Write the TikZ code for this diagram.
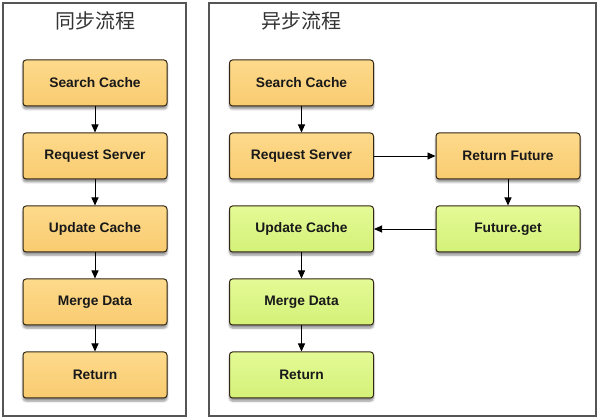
\documentclass[tikz,border=0pt]{standalone}
\usepackage{fontspec}
\setmainfont{Liberation Sans}
\newfontfamily\cjk{Noto Sans CJK SC}
\usetikzlibrary{arrows.meta,shadows.blur}
\definecolor{orangetop}{RGB}{253,218,140}
\definecolor{orangebot}{RGB}{249,203,112}
\definecolor{greentop}{RGB}{228,250,150}
\definecolor{greenbot}{RGB}{212,241,120}
\definecolor{edgedark}{RGB}{50,38,20}
\definecolor{panelgray}{RGB}{85,85,85}

\tikzset{
  stepbox/.style={draw=edgedark, line width=1pt, rounded corners=3pt,
    minimum width=144pt, minimum height=46pt, inner sep=0pt,
    font=\fontsize{13.8}{16}\selectfont\bfseries, text=black!90,
    blur shadow={shadow xshift=0pt, shadow yshift=-3pt, shadow blur steps=6, shadow opacity=45}},
  syncbox/.style={stepbox, top color=orangetop, bottom color=orangebot},
  asyncbox/.style={stepbox, top color=greentop, bottom color=greenbot},
  panel/.style={draw=panelgray, line width=1.1pt},
  title/.style={font=\cjk\fontsize{20}{24}\selectfont, text=black!80},
  flow/.style={-{Triangle[length=8pt,width=7pt]}, line width=0.9pt, black}
}

\begin{document}
\begin{tikzpicture}[x=1pt,y=-1pt]
  \useasboundingbox (0,0) rectangle (600,419);

  % panels
  \draw[panel] (3,3) rectangle (186,416);
  \draw[panel] (209,3) rectangle (596,416);
  \node[title] (synctitle) at (95,21) {同步流程};
  \node[title] (asynctitle) at (301,21) {异步流程};

  % sync flow
  \node[syncbox] (s1) at (95,83) {Search Cache};
  \node[syncbox] (s2) at (95,156) {Request Server};
  \node[syncbox] (s3) at (95,229) {Update Cache};
  \node[syncbox] (s4) at (95,302) {Merge Data};
  \node[syncbox] (s5) at (95,375) {Return};
  \foreach \a/\b in {s1/s2,s2/s3,s3/s4,s4/s5}
    \draw[flow] (\a) -- (\b);

  % async flow
  \node[syncbox] (a1) at (301.5,83) {Search Cache};
  \node[syncbox] (a2) at (301.5,156) {Request Server};
  \node[syncbox] (f1) at (508,156) {Return Future};
  \node[asyncbox] (f2) at (508,229) {Future.get};
  \node[asyncbox] (a3) at (301.5,229) {Update Cache};
  \node[asyncbox] (a4) at (301.5,302) {Merge Data};
  \node[asyncbox] (a5) at (301.5,375) {Return};
  \foreach \a/\b in {a1/a2,a2/f1,f1/f2,f2/a3,a3/a4,a4/a5}
    \draw[flow] (\a) -- (\b);
\end{tikzpicture}
\end{document}
